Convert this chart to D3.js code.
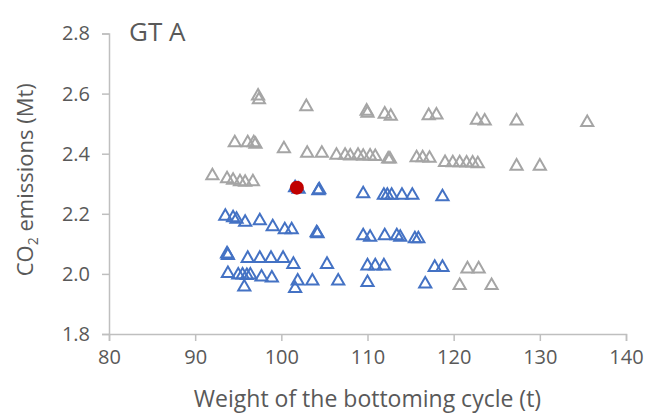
<!DOCTYPE html>
<html>
<head>
<meta charset="utf-8">
<script src="https://cdn.jsdelivr.net/npm/d3@7"></script>
<style>
  html, body { margin: 0; padding: 0; background: #fff; }
  svg { display: block; }
  text { font-family: "Open Sans", "Liberation Sans", sans-serif; fill: #595959; }
</style>
</head>
<body>
<svg id="chart" width="646" height="416"></svg>
<script>
// Design alternatives that were not retained (grey)
const grayX = [97.3, 97.4, 102.9, 109.9, 110.0, 112.0, 112.7, 117.1, 118.0, 122.7, 123.6, 127.3, 135.5,
  94.6, 96.1, 96.8, 97.0, 100.3, 103.0, 104.7, 106.4, 107.4, 108.0, 108.9, 109.5, 110.3, 110.9, 112.4, 112.6,
  115.7, 116.4, 117.2, 119.0, 119.9, 120.7, 121.5, 122.2, 122.8, 127.3, 130.0,
  92.0, 93.7, 94.4, 95.2, 95.8, 96.7,
  121.6, 122.9, 120.7, 124.4];
const grayY = [2.595, 2.583, 2.56, 2.545, 2.538, 2.535, 2.528, 2.53, 2.532, 2.515, 2.512, 2.512, 2.507,
  2.44, 2.44, 2.44, 2.435, 2.42, 2.405, 2.405, 2.398, 2.398, 2.396, 2.398, 2.395, 2.396, 2.394, 2.386, 2.386,
  2.39, 2.39, 2.388, 2.374, 2.373, 2.373, 2.372, 2.372, 2.37, 2.362, 2.362,
  2.33, 2.32, 2.315, 2.31, 2.308, 2.31,
  2.02, 2.02, 1.965, 1.965];

// Retained design alternatives (blue)
const blueX = [101.6, 102.0, 104.3, 104.4, 109.5, 111.9, 112.3, 112.8, 114.0, 115.2, 118.7,
  93.5, 94.4, 94.8, 95.8, 97.5, 99.0, 100.4, 101.2, 104.1, 104.2, 109.5, 110.3, 112.0, 113.4, 113.8, 115.5, 115.9,
  93.7, 93.8, 96.1, 97.5, 98.8, 100.2, 101.4, 105.3, 110.0, 110.9, 111.9, 117.8, 118.7,
  93.8, 95.0, 95.5, 96.0, 96.4, 97.7, 98.9, 95.7, 101.9, 101.6, 103.6, 106.6, 110.0, 116.7];
const blueY = [2.29, 2.285, 2.28, 2.283, 2.27, 2.265, 2.265, 2.265, 2.265, 2.265, 2.26,
  2.195, 2.19, 2.185, 2.175, 2.18, 2.16, 2.15, 2.15, 2.14, 2.137, 2.13, 2.125, 2.13, 2.13, 2.125, 2.12, 2.12,
  2.07, 2.065, 2.055, 2.055, 2.055, 2.055, 2.035, 2.035, 2.03, 2.03, 2.03, 2.025, 2.025,
  2.005, 2.0, 2.0, 1.998, 2.0, 1.993, 1.99, 1.96, 1.98, 1.955, 1.98, 1.98, 1.975, 1.97];

// Selected design (red)
const redX = [101.8];
const redY = [2.287];

const xTicks = [80, 90, 100, 110, 120, 130, 140];
const yTicks = [1.8, 2.0, 2.2, 2.4, 2.6, 2.8];

const svg = d3.select("#chart");
const margin = { left: 109, right: 20, top: 33.5, bottom: 82 };
const W = 646, H = 416;

const x = d3.scaleLinear().domain([80, 140]).range([margin.left, W - margin.right]);
const y = d3.scaleLinear().domain([1.8, 2.8]).range([H - margin.bottom, margin.top]);

const axisColor = "#bfbfbf";

// Y axis
const gy = svg.append("g")
  .attr("transform", `translate(${margin.left},0)`)
  .call(d3.axisLeft(y).tickValues(yTicks).tickFormat(d3.format(".1f")).tickSize(7).tickPadding(12));
// X axis
const gx = svg.append("g")
  .attr("transform", `translate(0,${H - margin.bottom})`)
  .call(d3.axisBottom(x).tickValues(xTicks).tickFormat(d3.format("d")).tickSize(7).tickPadding(9));

[gx, gy].forEach(g => {
  g.select(".domain").attr("stroke", axisColor).attr("stroke-width", 1.5);
  g.selectAll(".tick line").attr("stroke", axisColor).attr("stroke-width", 1.5);
  g.selectAll(".tick text").attr("fill", "#595959").style("font-size", "20px")
    .style("font-family", "'Open Sans', sans-serif");
});

// Markers
const tri = d3.symbol().type(d3.symbolTriangle).size(64);

function drawTriangles(xs, ys, color) {
  svg.append("g").selectAll("path")
    .data(d3.range(xs.length))
    .join("path")
    .attr("d", tri)
    .attr("transform", i => `translate(${x(xs[i])},${y(ys[i]) + 1})`)
    .attr("fill", "none")
    .attr("stroke", color)
    .attr("stroke-width", 2);
}

drawTriangles(grayX, grayY, "#a5a5a5");
drawTriangles(blueX, blueY, "#4472c4");

svg.append("g").selectAll("circle")
  .data(d3.range(redX.length))
  .join("circle")
  .attr("cx", i => x(redX[i]))
  .attr("cy", i => y(redY[i]))
  .attr("r", 7)
  .attr("fill", "#c00000");

// Panel title
svg.append("text")
  .attr("x", 129).attr("y", 41)
  .style("font-size", "26px")
  .text("GT A");

// Axis titles
svg.append("text")
  .attr("x", (margin.left + W - margin.right) / 2)
  .attr("y", 407)
  .attr("text-anchor", "middle")
  .style("font-size", "23px")
  .text("Weight of the bottoming cycle (t)");

const yt = svg.append("text")
  .attr("transform", `translate(33,${(margin.top + H - margin.bottom) / 2 - 4}) rotate(-90)`)
  .attr("text-anchor", "middle")
  .style("font-size", "22px");
yt.append("tspan").text("CO");
yt.append("tspan").attr("dy", 5).style("font-size", "14px").text("2");
yt.append("tspan").attr("dy", -5).text(" emissions (Mt)");
</script>
</body>
</html>
